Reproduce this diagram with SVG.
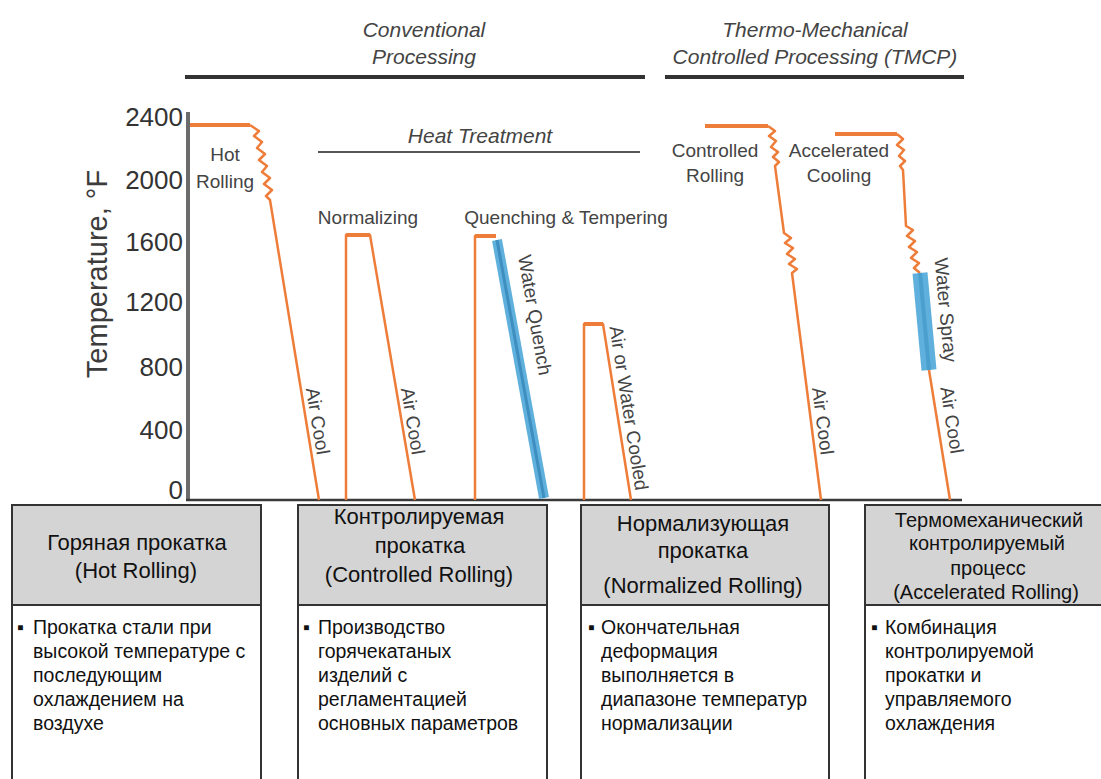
<svg xmlns="http://www.w3.org/2000/svg" width="1101" height="779" viewBox="0 0 1101 779">
<style>
.t{font-family:"Liberation Sans",Arial,sans-serif;fill:#3c3c3c}
.it{font-style:italic;font-size:21px;text-anchor:middle;fill:#444}
.lab{font-size:19px;text-anchor:middle;fill:#444}
.rot{font-size:19px;text-anchor:middle;fill:#444}
.ax{font-size:26px;text-anchor:end;fill:#333}
.hdr{font-size:22px;text-anchor:middle;fill:#111}
.hdr4{font-size:20px;text-anchor:middle;fill:#111}
.body{font-size:19.5px;fill:#111}
.or{fill:none;stroke:#ef7d3a;stroke-width:2.5;stroke-linejoin:round}
.plat{fill:none;stroke:#ef7d3a;stroke-width:4}
.blue{fill:none;stroke:#5fb0dc;stroke-width:10}
.bluec{fill:none;stroke:#3e8fc0;stroke-width:3}
.hd{fill:#d4d4d4;stroke:#333;stroke-width:2}
.bd{fill:#fff;stroke:#333;stroke-width:2}
</style>

<g id="headings">
<text class="t it" x="424" y="37">Conventional</text>
<text class="t it" x="424" y="64">Processing</text>
<line x1="185" y1="77" x2="645" y2="77" stroke="#333" stroke-width="4"/>
<text class="t it" x="815" y="37">Thermo-Mechanical</text>
<text class="t it" x="815" y="64">Controlled Processing (TMCP)</text>
<line x1="665" y1="77" x2="964" y2="77" stroke="#333" stroke-width="4"/>
<text class="t it" x="480" y="143">Heat Treatment</text>
<line x1="318" y1="152" x2="640" y2="152" stroke="#555" stroke-width="2"/>
</g>

<g id="axes">
<line x1="188" y1="112" x2="188" y2="501" stroke="#6b6b6b" stroke-width="4"/>
<line x1="186" y1="500" x2="962" y2="500" stroke="#3a3a3a" stroke-width="2.5"/>
<text class="t ax" x="183" y="126">2400</text>
<text class="t ax" x="183" y="189">2000</text>
<text class="t ax" x="183" y="251">1600</text>
<text class="t ax" x="183" y="311">1200</text>
<text class="t ax" x="183" y="376">800</text>
<text class="t ax" x="183" y="439">400</text>
<text class="t ax" x="183" y="499">0</text>
<text class="t" x="107" y="274" transform="rotate(-90 107 274)" font-size="29" text-anchor="middle" fill="#3a3340">Temperature, °F</text>
</g>

<g id="curves">
<line class="plat" x1="190" y1="125" x2="250" y2="125"/>
<path class="or" d="M250,125 L259,131 L254,136 L262,142 L257,148 L265,154 L259,160 L267,166 L262,172 L270,178 L264,184 L272,190 L266,196 L270,200 L319,500"/>
<path class="or" d="M346,500 V235 H370 L415,500"/>
<line class="plat" x1="346" y1="235" x2="370" y2="235"/>
<path class="or" d="M475,500 V236 H496"/>
<line class="plat" x1="475" y1="236" x2="496" y2="236"/>
<line class="blue" x1="497" y1="240" x2="544" y2="498"/>
<line class="bluec" x1="497" y1="240" x2="544" y2="498"/>
<path class="or" d="M584,500 V324 H603 L631,500"/>
<line class="plat" x1="584" y1="324" x2="603" y2="324"/>
<line class="plat" x1="705" y1="126" x2="768" y2="126"/>
<path class="or" d="M768,126 L775,131 L769,136 L776,141 L771,147 L778,152 L773,157 L779,162 L775,166 L784,233 L791,238 L785,243 L793,248 L787,254 L795,259 L789,264 L797,269 L792,273 L821,500"/>
<line class="plat" x1="835" y1="134" x2="897" y2="134"/>
<path class="or" d="M897,134 L903,139 L897,145 L904,150 L899,156 L905,161 L900,166 L903,170 L906,226 L913,230 L907,236 L915,241 L909,247 L917,252 L911,258 L919,263 L914,268 L920,273"/>
<line x1="920" y1="273" x2="929" y2="370" stroke="#5fb0dc" stroke-width="15"/>
<line x1="920" y1="273" x2="929" y2="370" stroke="#4a9fcf" stroke-width="4"/>
<path class="or" d="M929,370 L950,500"/>
</g>

<g id="chart-labels">
<text class="t lab" x="225" y="161" font-size="18">Hot</text>
<text class="t lab" x="225" y="188" font-size="18">Rolling</text>
<text class="t lab" x="368" y="224">Normalizing</text>
<text class="t lab" x="566" y="224">Quenching &amp; Tempering</text>
<text class="t lab" x="715" y="157">Controlled</text>
<text class="t lab" x="715" y="182">Rolling</text>
<text class="t lab" x="839" y="157">Accelerated</text>
<text class="t lab" x="839" y="182">Cooling</text>
<text class="t rot" x="318" y="421" dy="0.35em" transform="rotate(80.5 318 421)">Air Cool</text>
<text class="t rot" x="413" y="421" dy="0.35em" transform="rotate(80.5 413 421)">Air Cool</text>
<text class="t rot" x="535" y="315" dy="0.35em" transform="rotate(80 535 315)">Water Quench</text>
<text class="t rot" x="629" y="408" dy="0.35em" transform="rotate(81 629 408)">Air or Water Cooled</text>
<text class="t rot" x="823" y="421" dy="0.35em" transform="rotate(82.7 823 421)">Air Cool</text>
<text class="t rot" x="946" y="310" dy="0.35em" transform="rotate(84.7 946 310)">Water Spray</text>
<text class="t rot" x="952" y="420" dy="0.35em" transform="rotate(81 952 420)">Air Cool</text>
</g>

<g id="box-hot-rolling">
<rect class="bd" x="12" y="505" width="249" height="290"/>
<rect class="hd" x="12" y="505" width="249" height="100"/>
<text class="t hdr" x="137" y="550">Горяная прокатка</text>
<text class="t hdr" x="136" y="578">(Hot Rolling)</text>
<text class="t body" x="17" y="634">▪</text>
<text class="t body"><tspan x="33" y="634">Прокатка стали при</tspan><tspan x="33" y="658">высокой температуре с</tspan><tspan x="33" y="682">последующим</tspan><tspan x="33" y="706">охлаждением на</tspan><tspan x="33" y="730">воздухе</tspan></text>
</g>

<g id="box-controlled-rolling">
<rect class="bd" x="298" y="505" width="249" height="290"/>
<rect class="hd" x="298" y="505" width="249" height="100"/>
<text class="t hdr" x="419" y="524">Контролируемая</text>
<text class="t hdr" x="420" y="553">прокатка</text>
<text class="t hdr" x="419" y="582">(Controlled Rolling)</text>
<text class="t body" x="303" y="634">▪</text>
<text class="t body"><tspan x="318" y="634">Производство</tspan><tspan x="318" y="658">горячекатаных</tspan><tspan x="318" y="682">изделий с</tspan><tspan x="318" y="706">регламентацией</tspan><tspan x="318" y="730">основных параметров</tspan></text>
</g>

<g id="box-normalized-rolling">
<rect class="bd" x="581" y="505" width="248" height="290"/>
<rect class="hd" x="581" y="505" width="248" height="100"/>
<text class="t hdr" x="703" y="531">Нормализующая</text>
<text class="t hdr" x="703" y="558">прокатка</text>
<text class="t hdr" x="703" y="593">(Normalized Rolling)</text>
<text class="t body" x="588" y="634">▪</text>
<text class="t body"><tspan x="601" y="634">Окончательная</tspan><tspan x="601" y="658">деформация</tspan><tspan x="601" y="682">выполняется в</tspan><tspan x="601" y="706">диапазоне температур</tspan><tspan x="601" y="730">нормализации</tspan></text>
</g>

<g id="box-accelerated-rolling">
<rect class="bd" x="865" y="505" width="250" height="290"/>
<rect class="hd" x="865" y="505" width="250" height="100"/>
<text class="t hdr4" x="989" y="527">Термомеханический</text>
<text class="t hdr4" x="987" y="550">контролируемый</text>
<text class="t hdr4" x="988" y="575">процесс</text>
<text class="t hdr4" x="986" y="599">(Accelerated Rolling)</text>
<text class="t body" x="871" y="634">▪</text>
<text class="t body"><tspan x="885" y="634">Комбинация</tspan><tspan x="885" y="658">контролируемой</tspan><tspan x="885" y="682">прокатки и</tspan><tspan x="885" y="706">управляемого</tspan><tspan x="885" y="730">охлаждения</tspan></text>
</g>
</svg>
